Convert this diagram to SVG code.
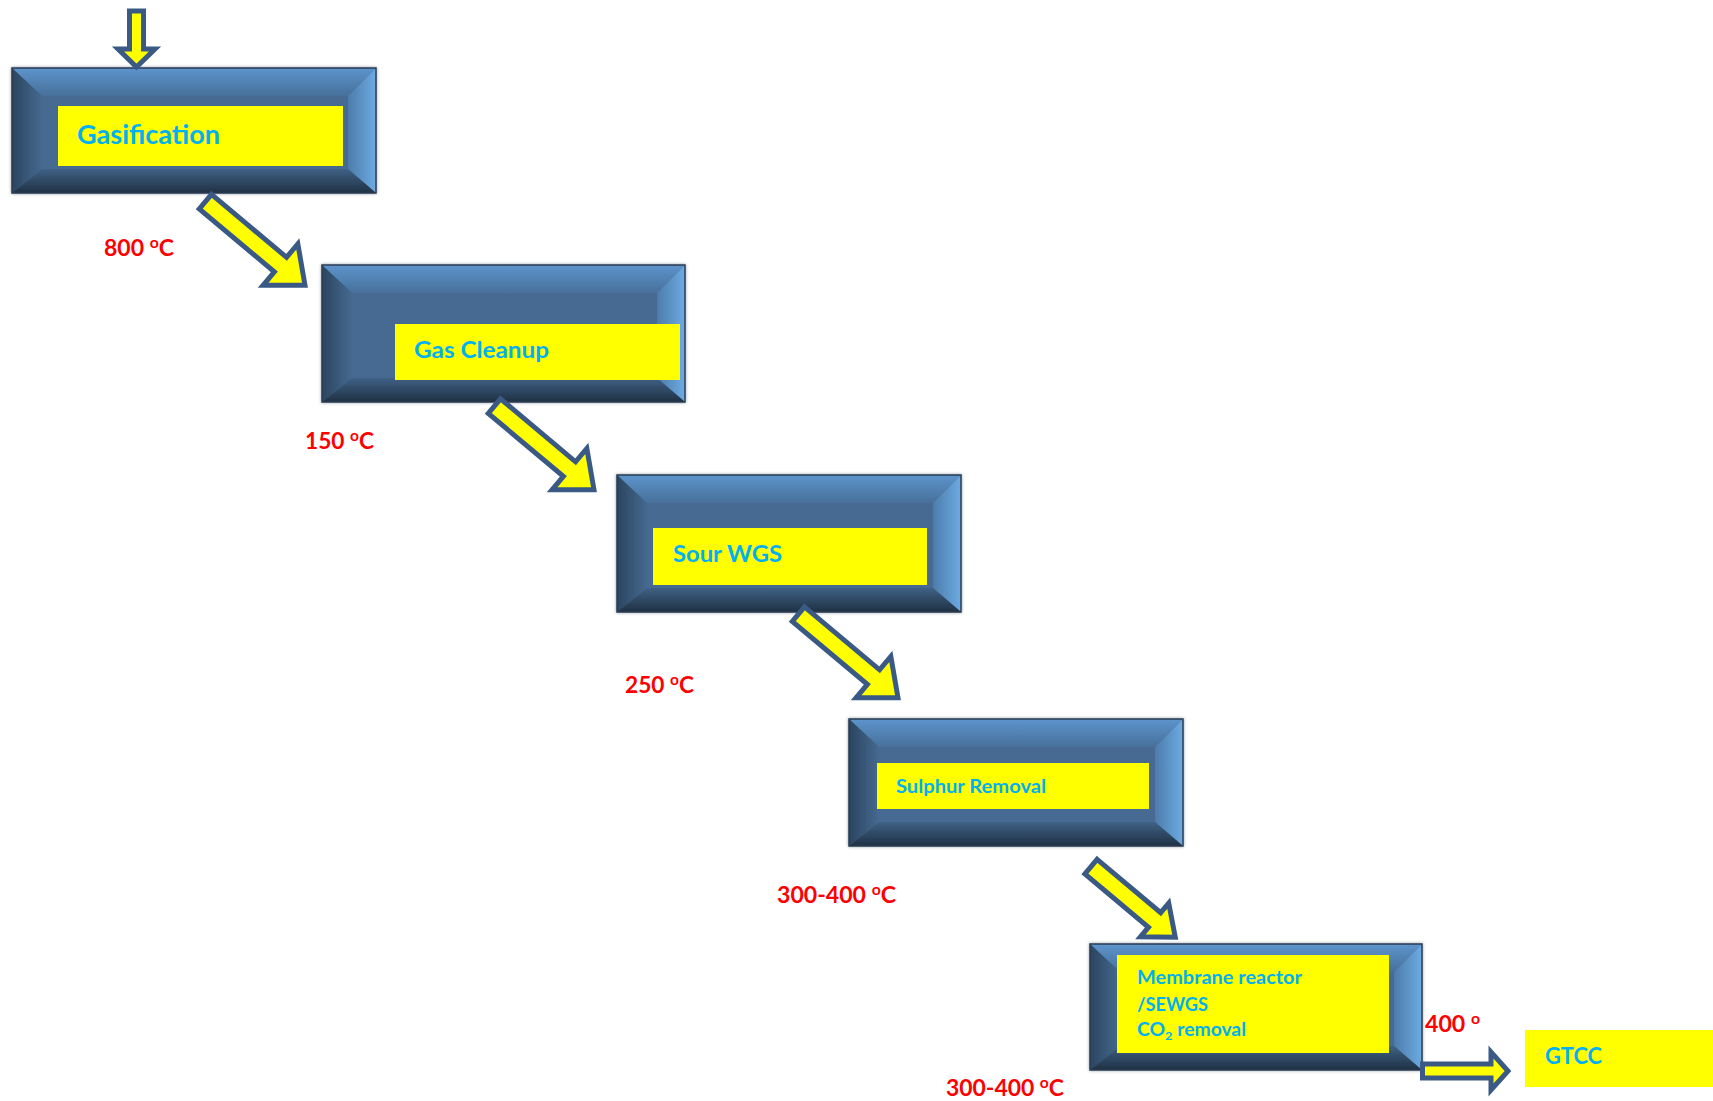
<svg xmlns="http://www.w3.org/2000/svg" width="1713" height="1101" viewBox="0 0 1713 1101">
<style>
.face{fill:#466b92}
.bt{fill:url(#gTop)}
.bl{fill:url(#gLeft)}
.br{fill:url(#gRight)}
.bb{fill:url(#gBot)}
.edge{fill:none;stroke:#2a3d52;stroke-width:1.5}
.box{filter:url(#sh)}
.ylw{fill:#ffff00}
.nt{font-family:Lato,"Open Sans",sans-serif;font-weight:bold;fill:#00b0f0}
.lb{font-family:Lato,"Open Sans",sans-serif;font-weight:bold;fill:#ff0000;font-size:22px}
.sup{font-size:15px}
.arr{fill:#ffff00;stroke:#3a5a85;stroke-width:5;stroke-linejoin:miter;stroke-miterlimit:10}
</style>
<defs>
<linearGradient id="gTop" x1="0" y1="0" x2="0" y2="1"><stop offset="0" stop-color="#5d94cd"/><stop offset="1" stop-color="#47709a"/></linearGradient>
<linearGradient id="gLeft" x1="0" y1="0" x2="1" y2="0"><stop offset="0" stop-color="#2b4560"/><stop offset="1" stop-color="#45698f"/></linearGradient>
<linearGradient id="gRight" x1="0" y1="0" x2="1" y2="0"><stop offset="0" stop-color="#4d7cab"/><stop offset="1" stop-color="#6cabe3"/></linearGradient>
<linearGradient id="gBot" x1="0" y1="0" x2="0" y2="1"><stop offset="0" stop-color="#3f6185"/><stop offset="1" stop-color="#1f3143"/></linearGradient>
<filter id="sh" x="-5%" y="-10%" width="110%" height="120%"><feDropShadow dx="0" dy="0" stdDeviation="1.6" flood-color="#5a6b7c" flood-opacity="0.7"/></filter>
</defs>
<rect width="1713" height="1101" fill="#ffffff"/>

<g id="gasification">
<g class="box">
<rect class="face" x="12" y="68" width="364" height="125"/>
<polygon class="bt" points="12,68 376,68 348,96 42,96"/>
<polygon class="bl" points="12,68 42,96 42,169 12,193"/>
<polygon class="br" points="376,68 376,193 348,169 348,96"/>
<polygon class="bb" points="12,193 376,193 348,169 42,169"/>
<rect class="edge" x="12" y="68" width="364" height="125"/>
</g>
<rect class="ylw" x="58" y="106" width="285" height="60"/>
<text class="nt" x="77" y="144" font-size="26" textLength="143" lengthAdjust="spacingAndGlyphs">Gasification</text>
</g>

<g id="gas-cleanup">
<g class="box">
<rect class="face" x="322" y="265" width="363" height="137"/>
<polygon class="bt" points="322,265 685,265 657,293 352,293"/>
<polygon class="bl" points="322,265 352,293 352,378 322,402"/>
<polygon class="br" points="685,265 685,402 657,378 657,293"/>
<polygon class="bb" points="322,402 685,402 657,378 352,378"/>
<rect class="edge" x="322" y="265" width="363" height="137"/>
</g>
<rect class="ylw" x="395" y="324" width="285" height="56"/>
<text class="nt" x="414" y="358" font-size="23" textLength="135" lengthAdjust="spacingAndGlyphs">Gas Cleanup</text>
</g>

<g id="sour-wgs">
<g class="box">
<rect class="face" x="617" y="475" width="344" height="137"/>
<polygon class="bt" points="617,475 961,475 933,503 647,503"/>
<polygon class="bl" points="617,475 647,503 647,588 617,612"/>
<polygon class="br" points="961,475 961,612 933,588 933,503"/>
<polygon class="bb" points="617,612 961,612 933,588 647,588"/>
<rect class="edge" x="617" y="475" width="344" height="137"/>
</g>
<rect class="ylw" x="653" y="528" width="274" height="57"/>
<text class="nt" x="673" y="562" font-size="23" textLength="109" lengthAdjust="spacingAndGlyphs">Sour WGS</text>
</g>

<g id="sulphur-removal">
<g class="box">
<rect class="face" x="849" y="719" width="334" height="127"/>
<polygon class="bt" points="849,719 1183,719 1155,747 879,747"/>
<polygon class="bl" points="849,719 879,747 879,822 849,846"/>
<polygon class="br" points="1183,719 1183,846 1155,822 1155,747"/>
<polygon class="bb" points="849,846 1183,846 1155,822 879,822"/>
<rect class="edge" x="849" y="719" width="334" height="127"/>
</g>
<rect class="ylw" x="877" y="763" width="272" height="46"/>
<text class="nt" x="896" y="793" font-size="19" textLength="150" lengthAdjust="spacingAndGlyphs">Sulphur Removal</text>
</g>

<g id="membrane-reactor">
<g class="box">
<rect class="face" x="1090" y="944" width="332" height="126"/>
<polygon class="bt" points="1090,944 1422,944 1394,972 1120,972"/>
<polygon class="bl" points="1090,944 1120,972 1120,1046 1090,1070"/>
<polygon class="br" points="1422,944 1422,1070 1394,1046 1394,972"/>
<polygon class="bb" points="1090,1070 1422,1070 1394,1046 1120,1046"/>
<rect class="edge" x="1090" y="944" width="332" height="126"/>
</g>
<rect class="ylw" x="1117" y="955" width="272" height="98"/>
<text class="nt" x="1137" y="984" font-size="18" textLength="165" lengthAdjust="spacingAndGlyphs">Membrane reactor</text>
<text class="nt" x="1137" y="1011" font-size="18" textLength="71" lengthAdjust="spacingAndGlyphs">/SEWGS</text>
<text class="nt" x="1137" y="1036" font-size="18" textLength="109" lengthAdjust="spacingAndGlyphs">CO<tspan font-size="12" baseline-shift="-4">2</tspan> removal</text>
</g>

<g id="gtcc">
<rect class="ylw" x="1525" y="1030" width="188" height="57"/>
<text class="nt" x="1545" y="1064" font-size="22" textLength="57" lengthAdjust="spacingAndGlyphs">GTCC</text>
</g>

<g id="connectors">
<path class="arr" d="M129.5,11 H143.5 V49 H155 L136.5,67 L118,49 H129.5 Z"/>
<path class="arr" transform="translate(205.4,201.6) rotate(40)" d="M0,-9.5 H98 V-27 L130,0 L98,27 V9.5 H0 Z"/>
<path class="arr" transform="translate(494.4,406.1) rotate(40)" d="M0,-9.5 H98 V-27 L130,0 L98,27 V9.5 H0 Z"/>
<path class="arr" transform="translate(798.4,614.1) rotate(40)" d="M0,-9.5 H98 V-27 L130,0 L98,27 V9.5 H0 Z"/>
<path class="arr" transform="translate(1091,866.6) rotate(40)" d="M0,-9.5 H83 V-22 L110,0 L83,22 V9.5 H0 Z"/>
<path class="arr" d="M1422.5,1064 H1491 V1052 L1508,1071 L1491,1090 V1078 H1422.5 Z"/>
</g>

<g id="labels">
<text class="lb" x="104" y="256" textLength="70" lengthAdjust="spacingAndGlyphs">800 <tspan class="sup" baseline-shift="8">o</tspan>C</text>
<text class="lb" x="305" y="449" textLength="69" lengthAdjust="spacingAndGlyphs">150 <tspan class="sup" baseline-shift="8">o</tspan>C</text>
<text class="lb" x="625" y="693" textLength="69" lengthAdjust="spacingAndGlyphs">250 <tspan class="sup" baseline-shift="8">o</tspan>C</text>
<text class="lb" x="777" y="903" textLength="119" lengthAdjust="spacingAndGlyphs">300-400 <tspan class="sup" baseline-shift="8">o</tspan>C</text>
<text class="lb" x="946" y="1096" textLength="118" lengthAdjust="spacingAndGlyphs">300-400 <tspan class="sup" baseline-shift="8">o</tspan>C</text>
<text class="lb" x="1425" y="1032" textLength="55" lengthAdjust="spacingAndGlyphs">400 <tspan class="sup" baseline-shift="8">o</tspan></text>
</g>
</svg>
